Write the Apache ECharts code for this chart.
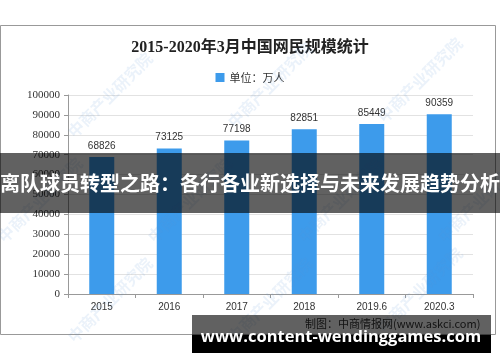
<!DOCTYPE html>
<html>
<head>
<meta charset="utf-8">
<script src="https://cdn.jsdelivr.net/npm/echarts@6/dist/echarts.min.js"></script>
<style>html,body{margin:0;padding:0;background:#fff}#c{width:500px;height:362px}</style>
</head>
<body>
<div id="c"></div>
<script>
const categories = ['2015', '2016', '2017', '2018', '2019.6', '2020.3'];
const values = [68826, 73125, 77198, 82851, 85449, 90359];
const yTicks = [0, 10000, 20000, 30000, 40000, 50000, 60000, 70000, 80000, 90000, 100000];
const titleText = '2015-2020年3月中国网民规模统计';
const legendName = '单位：万人';
const bannerText = '离队球员转型之路：各行各业新选择与未来发展趋势分析';
const sourceText = '制图：中商情报网(www.askci.com)';
const siteText = 'www.content-wendinggames.com';
const watermark = '中商产业研究院';

const chart = echarts.init(document.getElementById('c'));
const wmPositions = [[110,95],[270,85],[420,80],[40,200],[190,200],[340,200],[480,200],[110,300],[270,300],[420,290]];
const wm = wmPositions.map(p => ({
  type: 'text', x: p[0], y: p[1], rotation: Math.PI/4, z: 50,
  style: { text: watermark, fill: 'rgba(90,150,215,0.12)', font: 'bold 16px "Noto Sans CJK SC"', align: 'center', verticalAlign: 'middle' }
}));
chart.setOption({
  animation: false,
  title: {
    text: titleText, left: 'center', top: 35,
    textStyle: { fontSize: 16, fontWeight: 'bold', color: '#222', fontFamily: '"Liberation Serif","Noto Sans CJK SC"' }
  },
  legend: {
    data: [legendName], top: 67, left: 'center', itemWidth: 9, itemHeight: 9, itemGap: 2, icon: 'rect',
    textStyle: { fontSize: 11, color: '#333', fontFamily: '"Noto Sans CJK SC"' }
  },
  grid: { left: 68, right: 27, top: 95, bottom: 68 },
  xAxis: {
    type: 'category', data: categories,
    axisLine: { lineStyle: { color: '#999' } },
    axisTick: { show: true, alignWithLabel: false, length: 4, lineStyle: { color: '#999' } },
    axisLabel: { color: '#333', fontSize: 10, margin: 8, fontFamily: '"Liberation Sans"' }
  },
  yAxis: {
    type: 'value', min: yTicks[0], max: yTicks[yTicks.length-1], interval: yTicks[1]-yTicks[0],
    axisLine: { show: true, lineStyle: { color: '#999' } },
    axisTick: { show: true, length: 4, lineStyle: { color: '#999' } },
    axisLabel: { color: '#333', fontSize: 11, margin: 8, fontFamily: '"Liberation Serif"', formatter: v => String(v) },
    splitLine: { lineStyle: { color: '#e2e2e2' } }
  },
  series: [{
    name: legendName, type: 'bar', data: values, barWidth: 25,
    itemStyle: { color: '#3d9beb' },
    label: { show: true, position: 'top', color: '#333', fontSize: 10, distance: 6, fontFamily: '"Liberation Sans"' }
  }],
  graphic: [
    { type: 'rect', shape: { x: 0.5, y: 25.5, width: 495, height: 309 }, style: { fill: 'none', stroke: '#999', lineWidth: 1 }, z: 40 },
    ...wm,
    { type: 'text', x: 305, y: 324, z: 60, style: { text: sourceText, fill: '#333', font: '11px "Noto Sans CJK SC"', verticalAlign: 'middle' } },
    { type: 'rect', shape: { x: 0, y: 153, width: 500, height: 60 }, style: { fill: 'rgba(0,0,0,0.62)' }, z: 100 },
    { type: 'text', x: 250, y: 183, z: 101, style: { text: bannerText, fill: '#fff', font: 'bold 20px "Noto Sans CJK SC"', align: 'center', verticalAlign: 'middle' } },
    { type: 'rect', shape: { x: 192, y: 315, width: 299, height: 20 }, style: { fill: 'rgba(0,0,0,0.62)' }, z: 100 },
    { type: 'rect', shape: { x: 192, y: 335, width: 299, height: 18 }, style: { fill: '#000' }, z: 100 },
    { type: 'text', x: 341, y: 337, z: 101, style: { text: siteText, fill: '#fff', font: 'bold 16.5px "Open Sans"', align: 'center', verticalAlign: 'middle' } }
  ]
});
</script>
</body>
</html>
